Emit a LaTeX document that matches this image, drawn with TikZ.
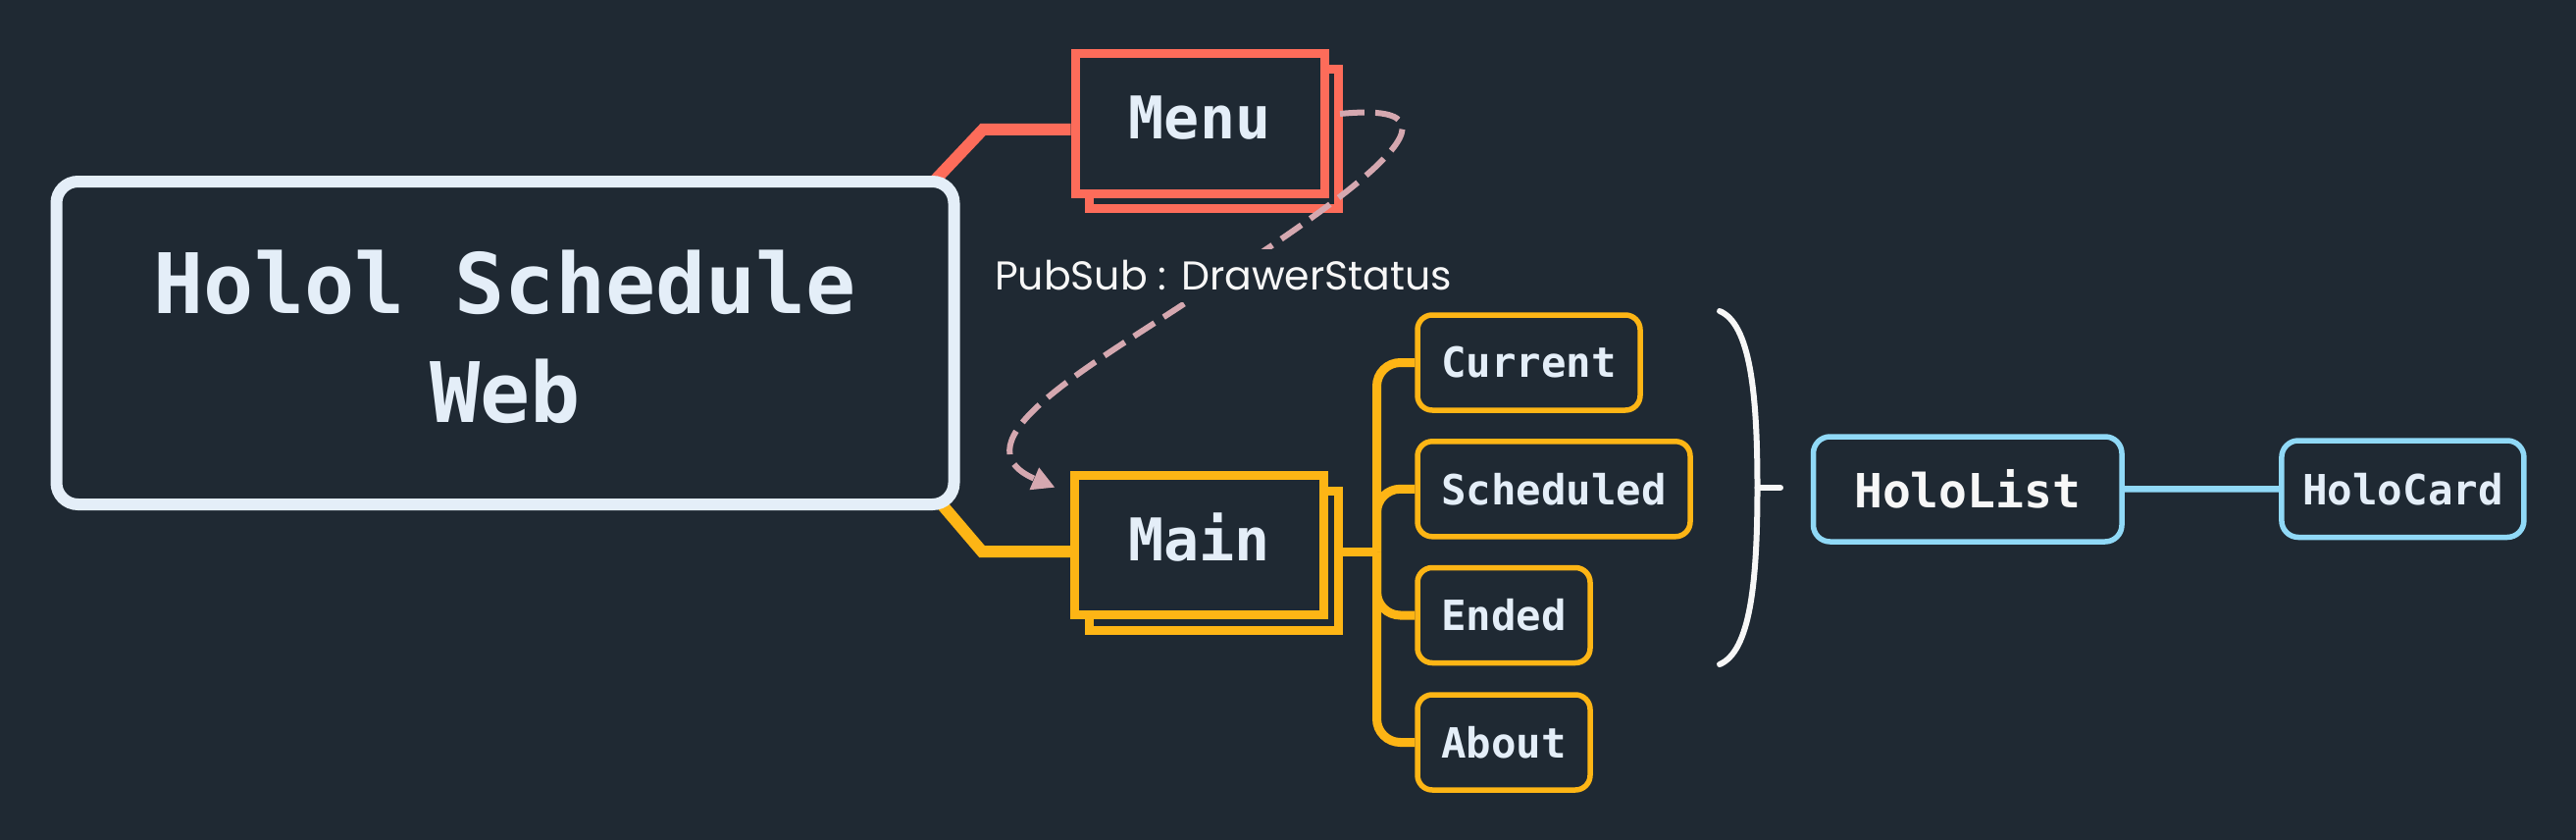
\documentclass[tikz,border=0pt]{standalone}
\usepackage{fontspec}
\setmonofont{DejaVu Sans Mono}
\newfontfamily\labelfont{Poppins}
\usetikzlibrary{arrows.meta,shadows,calc}
\definecolor{bgc}{HTML}{1F2933}
\definecolor{titlec}{HTML}{E4EEF8}
\definecolor{redc}{HTML}{FD6C5A}
\definecolor{yelc}{HTML}{FDB515}
\definecolor{bluec}{HTML}{90D9F7}
\definecolor{pinkc}{HTML}{D5A8B0}
\definecolor{txtc}{HTML}{E4EEF8}
\definecolor{whitec}{HTML}{F7F7F7}
\pgfdeclarelayer{bglayer}
\pgfdeclarelayer{edgelayer}
\pgfsetlayers{bglayer,edgelayer,main}
\begin{document}
\begin{tikzpicture}[x=1pt,y=-1pt,
  titlebox/.style={draw=titlec, fill=bgc, line width=12pt, rounded corners=22pt,
    minimum width=915pt, minimum height=329pt, inner sep=0pt, text=titlec, align=center,
    font=\ttfamily\bfseries\fontsize{85pt}{111pt}\selectfont},
  compbox/.style={draw=#1, fill=bgc, line width=9pt, minimum width=254pt, minimum height=142pt,
    inner sep=0pt, text=txtc, font=\ttfamily\bfseries\fontsize{60pt}{70pt}\selectfont,
    text height=44pt, text depth=13pt,
    general shadow={draw=#1, fill=bgc, line width=9pt, shadow xshift=14.5pt, shadow yshift=-15.5pt}},
  childbox/.style={draw=yelc, fill=bgc, line width=5.5pt, rounded corners=15pt, minimum height=97pt,
    inner sep=0pt, text=txtc, font=\ttfamily\bfseries\fontsize{42.4pt}{50pt}\selectfont},
  bluebox/.style={draw=bluec, fill=bgc, line width=5.5pt, rounded corners=17pt, inner sep=0pt},
  pubsublabel/.style={fill=bgc, text=whitec, inner sep=12pt, font=\labelfont\fontsize{41pt}{48pt}\selectfont},
  redline/.style={draw=redc, line width=12pt},
  yelthick/.style={draw=yelc, line width=12pt},
  ytree/.style={draw=yelc, line width=9pt, rounded corners=24pt},
  bracketline/.style={draw=whitec, line width=6pt, line cap=round},
  blueline/.style={draw=bluec, line width=6.5pt},
  pubsubline/.style={draw=pinkc, line width=6pt, dash pattern=on 25pt off 11pt,
    -{Triangle[length=23pt,width=23pt]}}
]
\useasboundingbox (0,0) rectangle (2626,856);
\begin{pgfonlayer}{bglayer}
  \fill[bgc] (0,0) rectangle (2626,856);
\end{pgfonlayer}

% nodes
\node[titlebox] (title) at (515,349.5) {Holol Schedule\\Web\rule[-14pt]{0pt}{14pt}};
\node[compbox=redc] (menu) at (1223,126) {Menu};
\node[compbox=yelc] (main) at (1222.5,555.75) {Main};
\node[childbox, minimum width=227pt] (current) at (1558.5,369.5) {Current};
\node[childbox, minimum width=278pt] (scheduled) at (1584,498.3) {Scheduled};
\node[childbox, minimum width=176pt] (ended) at (1533,627) {Ended};
\node[childbox, minimum width=176pt] (about) at (1533,756.5) {About};
\node[bluebox, minimum width=314.5pt, minimum height=107pt, text=whitec,
  font=\ttfamily\bfseries\fontsize{48pt}{56pt}\selectfont] (hololist) at (2005.75,498.5) {HoloList};
\node[bluebox, minimum width=247pt, minimum height=98.5pt, text=txtc,
  font=\ttfamily\bfseries\fontsize{42.5pt}{50pt}\selectfont] (holocard) at (2449.4,498.25) {HoloCard};

% pubsub dashed connector (drawn over the boxes, under its label)
\coordinate (ps0) at ([xshift=143pt,yshift=10pt]menu.center);
\coordinate (psmid) at (1211,307);
\coordinate (pstip) at ([xshift=-15.5pt,yshift=-16.5pt]main.north west);
\draw[pubsubline] (ps0) .. controls (1530,100) and (1340,222) .. (psmid)
  .. controls (1111,373) and (970,452) .. (pstip);
\node[pubsublabel] (pubsub) at (1247,281) {PubSub : DrawerStatus};

% connectors
\begin{pgfonlayer}{edgelayer}
  \coordinate (rbend) at (1002,132);
  \coordinate (ybend) at (1001,562);
  \coordinate (trunk) at (1403.5,562.5);
  \draw[redline] ([xshift=-36pt,yshift=-16pt]title.north east) -- (rbend) -- (rbend -| menu.west);
  \draw[yelthick] ([xshift=-27pt,yshift=16pt]title.south east) -- (ybend) -- (ybend -| main.west);
  \draw[ytree, rounded corners=0pt] (main.center |- trunk) -- (trunk);
  \foreach \c in {current,scheduled,ended,about}
    \draw[ytree] (trunk) |- (\c.west);
  % summary bracket
  \coordinate (brtop) at (1753,317);
  \coordinate (brmid) at (1791.5,497);
  \coordinate (brbot) at (1753,677);
  \coordinate (brtick) at (1815,497);
  \draw[bracketline] (brtop) .. controls (1784,330) and (1791.5,400) .. (brmid)
    .. controls (1791.5,594) and (1784,664) .. (brbot);
  \draw[bracketline] (brmid) -- (brtick);
  \draw[blueline] (hololist) -- (holocard);
\end{pgfonlayer}
\end{tikzpicture}
\end{document}
